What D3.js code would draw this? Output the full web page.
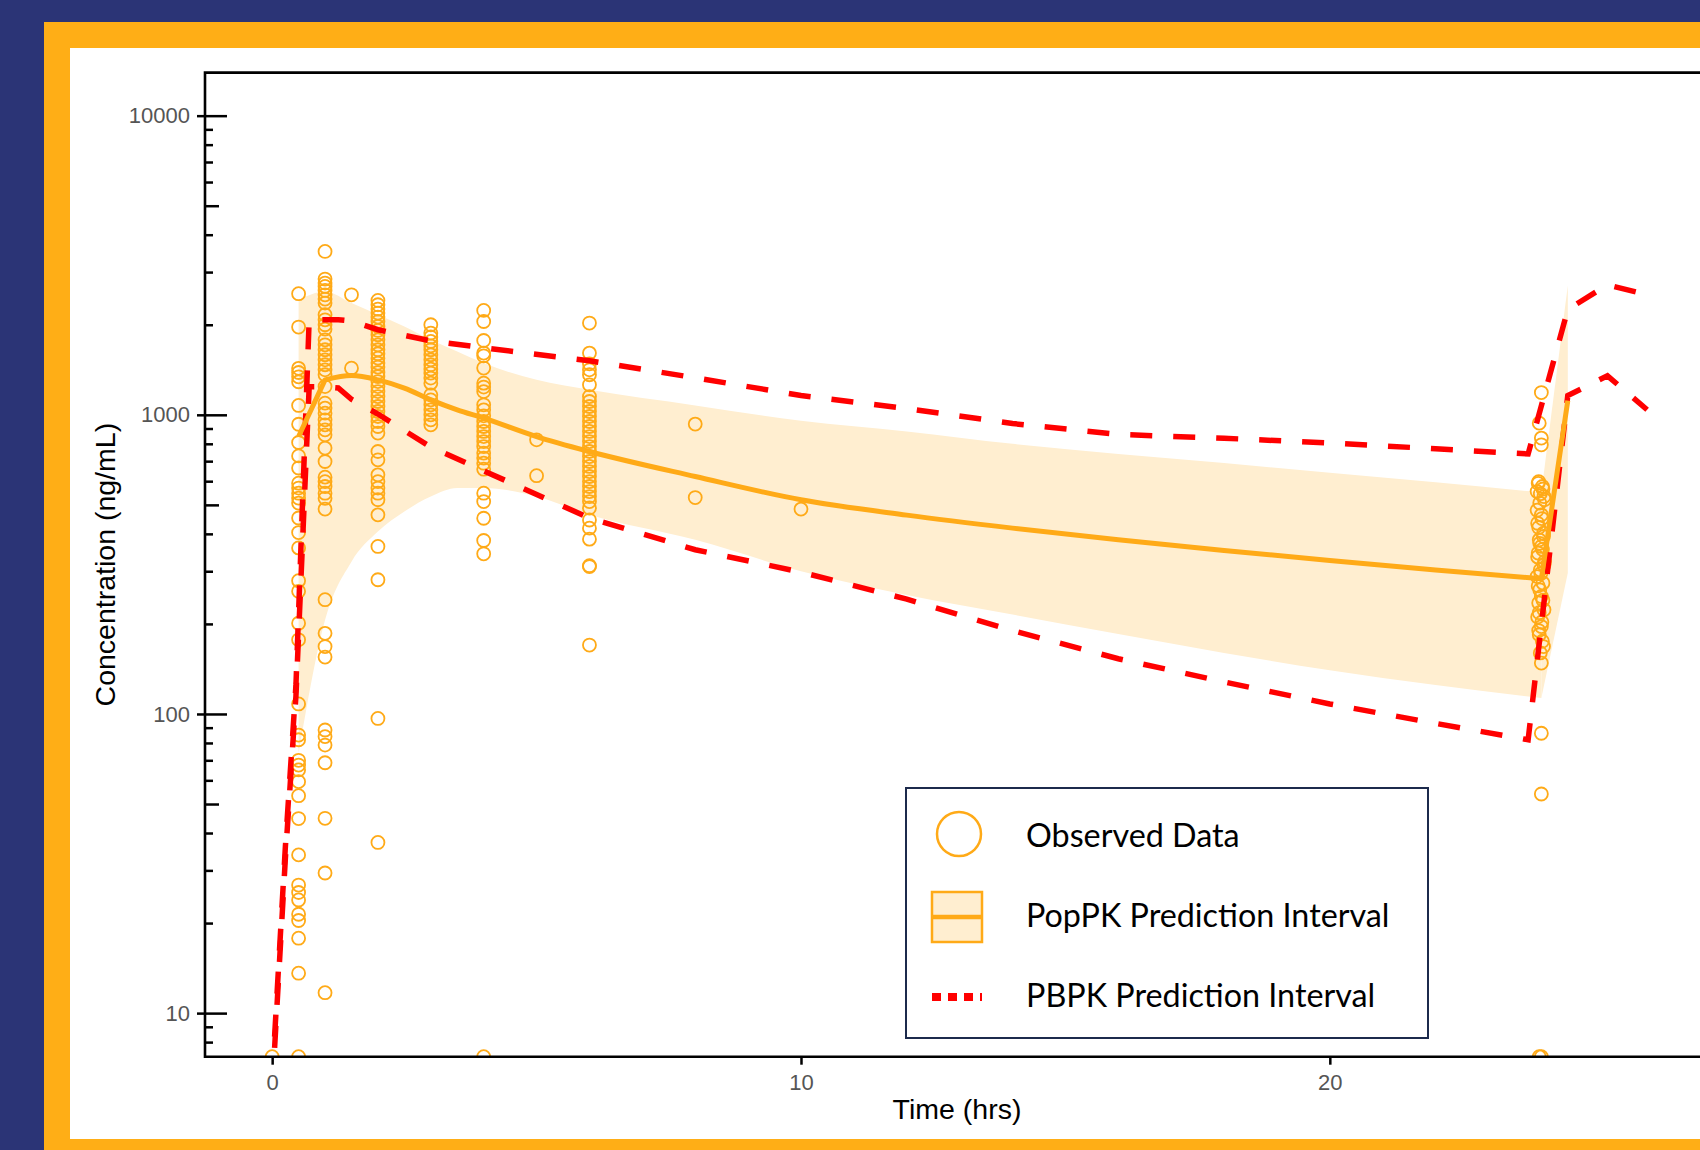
<!DOCTYPE html>
<html>
<head>
<meta charset="utf-8">
<script src="https://cdn.jsdelivr.net/npm/d3@7"></script>
<style>
  html, body { margin: 0; padding: 0; background: #2B3476; }
  svg { display: block; }
</style>
</head>
<body>
<svg id="chart" width="1700" height="1150"></svg>
<script>
// ---- Observed concentrations (ng/mL) ------------------------------------
// Samples below the limit of quantification sit on the axis floor.
const BLQ = 7.15;

const sampleTimes = [0, 0.5, 1, 1.5, 2, 3, 4, 5, 6, 8, 10];
const observedConc = [
  [BLQ],
  [2540, 1965, 1430, 1385, 1340, 1290, 1075, 930, 808, 729, 664, 591, 569, 547, 527, 507,
   452, 404, 359, 279, 257, 201, 177, 108, 85, 82, 70, 67.5, 65, 59.4, 53.3, 44.7, 33.8,
   26.8, 25.3, 23.9, 21.4, 20.4, 17.8, 13.6, BLQ],
  [3516, 2843, 2757, 2687, 2604, 2519, 2438, 2363, 2160, 2078, 2000, 1934, 1781, 1714, 1650,
   1588, 1527, 1470, 1414, 1361, 1243, 1094, 1053, 1013, 962, 926, 891, 857, 774, 698, 619,
   598, 576, 547, 526, 484, 241, 186, 168, 155, 88.4, 84, 78.7, 68.7, 44.8, 29.4, 11.7],
  [2519, 1432],
  [2412, 2333, 2257, 2189, 2122, 2051, 1974, 1914, 1852, 1781, 1714, 1650, 1600, 1547, 1489,
   1444, 1385, 1343, 1292, 1243, 1196, 1151, 1108, 1066, 1026, 987, 950, 914, 869, 754, 707,
   630, 598, 569, 547, 520, 463, 363, 281, 96.6, 37.2],
  [2000, 1876, 1820, 1759, 1701, 1650, 1588, 1527, 1470, 1422, 1379, 1327, 1276, 1166, 1122,
   1080, 1039, 1000, 962, 926],
  [2233, 2051, 1772, 1608, 1575, 1433, 1276, 1238, 1196, 1080, 1039, 992, 950, 914, 880, 846,
   814, 783, 745, 717, 689, 658, 547, 513, 451, 380, 343, BLQ],
  [825, 626],
  [2026, 1608, 1481, 1414, 1361, 1260, 1151, 1108, 1066, 1026, 987, 950, 914, 880, 846, 814,
   783, 754, 725, 698, 672, 646, 622, 598, 576, 554, 533, 513, 488, 445, 418, 384, 313, 311, 170],
  [931, 529],
  [484]
];

// Trough samples drawn just before the next dose (actual sampling times)
const troughTimes = [24.0, 23.96, 24.0, 24.0, 23.95, 24.02, 23.92, 24.05, 23.97, 24.0, 23.93,
                     24.04, 23.96, 24.0, 23.94, 24.06, 23.98, 23.92, 24.03, 23.97, 24.0, 23.95,
                     24.05, 23.93, 24.0, 23.96, 24.02, 23.98, 24.0, 24.0, 24.0, 23.96, 24.0,
                     23.94, 24.03, 23.98, 24.06, 23.92, 24.01, 23.95, 24.04, 23.97, 24.02,
                     23.93, 24.05, 23.99, 23.94, 24.03, 23.96, 24.01, 23.95, 24.04];
const troughConc  = [1187, 938, 836, 794, 598, 576, 554, 533, 507, 463, 434, 402, 382, 363,
                     345, 323, 303, 288, 274, 260, 247, 235, 223, 211, 196, 184, 175, 160, 148,
                     86.2, 54.0, BLQ, BLQ,
                     590, 565, 545, 520, 480, 450, 420, 392, 372, 355, 335, 315, 295, 268,
                     240, 218, 203, 190, 168, 155];

// ---- PopPK model: median and prediction interval ------------------------
const popTime   = [0.5, 1, 1.5, 2, 2.5, 3, 3.5, 4, 5, 6, 8, 10, 12, 14, 16, 18, 20, 22, 24, 24.5];
const popMedian = [846, 1309, 1353, 1309, 1228, 1122, 1039, 975, 846, 754, 622, 520, 462, 418,
                   382, 352, 326, 303, 283, 1115];
const popUpper  = [2422, 2585, 2363, 2160, 1974, 1781, 1628, 1489, 1309, 1212, 1075, 955, 880,
                   800, 740, 690, 640, 595, 550, 2700];
const popLower  = [74, 206, 323, 407, 475, 533, 569, 569, 533, 463, 382, 300, 250, 215, 185,
                   160, 140, 125, 113, 296];

// ---- PBPK model: prediction interval bounds -----------------------------
const pbpkTime  = [0, 0.25, 0.45, 0.7, 1.0, 1.25, 1.5, 2, 3, 4, 6, 8, 10, 12, 14, 16, 18, 20,
                   22, 23.75, 24.5, 25.25, 26];
const pbpkUpper = [6, 36, 125, 2080, 2080, 2080, 2060, 1925, 1767, 1675, 1515, 1330, 1160,
                   1050, 935, 860, 835, 805, 770, 740, 2250, 2720, 2520];
const pbpkLower = [5.5, 33, 115, 1240, 1240, 1230, 1127, 1006, 780, 650, 452, 354, 298, 242,
                   190, 153, 128, 108, 93, 82, 1160, 1350, 1040];

// ---- Axis ticks ----------------------------------------------------------
const xTickValues = [0, 10, 20];
const yTickValues = [10, 100, 1000, 10000];
const yTickLabels = ["10", "100", "1000", "10000"];

// ---- Legend --------------------------------------------------------------
const legendLabels = ["Observed Data", "PopPK Prediction Interval", "PBPK Prediction Interval"];

// ---- Styling -------------------------------------------------------------
const ORANGE = "#FFAA17";
const BAND = "#FFEED0";
const RED = "#FF0000";
const NAVY = "#2B3476";

const svg = d3.select("#chart");
const W = 1700, H = 1150;
const plot = { left: 205, right: 1700, top: 72.6, bottom: 1056.7 };

// page frame
svg.append("rect").attr("width", W).attr("height", H).attr("fill", NAVY);
svg.append("rect").attr("x", 44).attr("y", 22).attr("width", W - 44).attr("height", H - 22)
  .attr("fill", "#FFAE16");
svg.append("rect").attr("x", 70).attr("y", 48).attr("width", W - 70).attr("height", 1139 - 48)
  .attr("fill", "#FFFFFF");

const x = d3.scaleLinear().domain([-1.27, 27]).range([plot.left, plot.right]);
const y = d3.scaleLog().domain([BLQ, 13930]).range([plot.bottom, plot.top]);

svg.append("clipPath").attr("id", "plot-clip")
  .append("rect")
  .attr("x", plot.left).attr("y", plot.top)
  .attr("width", plot.right - plot.left).attr("height", plot.bottom - plot.top);

const g = svg.append("g").attr("clip-path", "url(#plot-clip)");

// PopPK prediction band: smooth over the dosing interval, straight across the redose step
const bandData = popTime.map((t, i) => ({ t, lo: popLower[i], hi: popUpper[i] }));
const nPop = popTime.length;
const bandSmooth = d3.area().curve(d3.curveMonotoneX)
  .x(d => x(d.t)).y0(d => y(d.lo)).y1(d => y(d.hi));
const bandStraight = d3.area()
  .x(d => x(d.t)).y0(d => y(d.lo)).y1(d => y(d.hi));
g.append("path").datum(bandData.slice(0, nPop - 1)).attr("fill", BAND).attr("d", bandSmooth);
g.append("path").datum(bandData.slice(nPop - 2)).attr("fill", BAND).attr("d", bandStraight);

// observed data
const obs = [];
sampleTimes.forEach((t, i) => observedConc[i].forEach(c => obs.push({ t, c })));
troughTimes.forEach((t, i) => obs.push({ t, c: troughConc[i] }));
g.selectAll("circle.obs")
  .data(obs)
  .join("circle")
  .attr("class", "obs")
  .attr("cx", d => x(d.t))
  .attr("cy", d => y(d.c))
  .attr("r", 6.5)
  .attr("fill", "none")
  .attr("stroke", ORANGE)
  .attr("stroke-width", 1.8);

// PBPK interval bounds
const pbpkLine = d3.line().x(d => x(d.t)).y(d => y(d.c));
[pbpkUpper, pbpkLower].forEach(vals => {
  g.append("path")
    .datum(pbpkTime.map((t, i) => ({ t, c: vals[i] })))
    .attr("fill", "none")
    .attr("stroke", RED)
    .attr("stroke-width", 5.5)
    .attr("stroke-dasharray", "22,21")
    .attr("d", pbpkLine);
});

// PopPK median: straight absorption rise, smooth decline, straight redose rise
const med = popTime.map((t, i) => ({ t, c: popMedian[i] }));
const smoothPart = d3.line().curve(d3.curveMonotoneX).x(d => x(d.t)).y(d => y(d.c))(med.slice(1, nPop - 1));
const first = med[0], last = med[nPop - 1];
const medPath = `M${x(first.t)},${y(first.c)}` + smoothPart.replace(/^M/, "L") +
  `L${x(last.t)},${y(last.c)}`;
g.append("path")
  .attr("fill", "none")
  .attr("stroke", ORANGE)
  .attr("stroke-width", 5)
  .attr("stroke-linejoin", "round")
  .attr("d", medPath);

// ---- axes -----------------------------------------------------------------
const axisColor = "#000";
const tickFont = "'Liberation Sans', Arial, sans-serif";

// y axis: outer part with labels
const yOuter = svg.append("g").attr("transform", `translate(${plot.left},0)`)
  .call(d3.axisLeft(y).tickValues(yTickValues)
    .tickFormat((d, i) => yTickLabels[i]).tickSize(8).tickSizeOuter(0).tickPadding(7));
yOuter.select(".domain").remove();
yOuter.selectAll("line").attr("stroke", axisColor).attr("stroke-width", 2.5);
yOuter.selectAll("text").attr("font-family", tickFont).attr("font-size", 22).attr("fill", "#555");

// y axis: inner ticks (major / half-decade / minor)
const allLogTicks = y.ticks(40).filter(v => v >= y.domain()[0] && v <= y.domain()[1]);
const lead = v => Math.round(v / Math.pow(10, Math.floor(Math.log10(v) + 1e-9)));
const yMajorInner = allLogTicks.filter(v => lead(v) === 1);
const yMidInner = allLogTicks.filter(v => lead(v) === 5);
const yMinorInner = allLogTicks.filter(v => lead(v) !== 1 && lead(v) !== 5);
[[yMajorInner, 22], [yMidInner, 14], [yMinorInner, 8]].forEach(([vals, len]) => {
  const a = svg.append("g").attr("transform", `translate(${plot.left},0)`)
    .call(d3.axisRight(y).tickValues(vals).tickSize(len).tickSizeOuter(0).tickFormat(""));
  a.select(".domain").remove();
  a.selectAll("line").attr("stroke", axisColor).attr("stroke-width", 2.5);
});

// x axis
const xAxis = svg.append("g").attr("transform", `translate(0,${plot.bottom})`)
  .call(d3.axisBottom(x).tickValues(xTickValues).tickSize(8).tickSizeOuter(0).tickPadding(10)
    .tickFormat(d3.format("d")));
xAxis.select(".domain").remove();
xAxis.selectAll("line").attr("stroke", axisColor).attr("stroke-width", 2.5);
xAxis.selectAll("text").attr("font-family", tickFont).attr("font-size", 22).attr("fill", "#555");

// frame lines: left axis, bottom axis, top border
svg.append("path")
  .attr("d", `M${plot.right},${plot.top}H${plot.left}V${plot.bottom}H${plot.right}`)
  .attr("fill", "none").attr("stroke", axisColor).attr("stroke-width", 2.6);

// axis titles
svg.append("text")
  .attr("transform", `translate(115,${(plot.top + plot.bottom) / 2}) rotate(-90)`)
  .attr("text-anchor", "middle")
  .attr("font-family", tickFont).attr("font-size", 28.5).attr("fill", "#000")
  .text("Concentration (ng/mL)");
svg.append("text")
  .attr("x", 957).attr("y", 1119)
  .attr("text-anchor", "middle")
  .attr("font-family", tickFont).attr("font-size", 28.5).attr("fill", "#000")
  .text("Time (hrs)");

// ---- legend ---------------------------------------------------------------
const lg = svg.append("g");
lg.append("rect")
  .attr("x", 906).attr("y", 788).attr("width", 522).attr("height", 250)
  .attr("fill", "#fff").attr("stroke", "#1C2A4C").attr("stroke-width", 2);

lg.append("circle").attr("cx", 959).attr("cy", 834).attr("r", 22)
  .attr("fill", "none").attr("stroke", ORANGE).attr("stroke-width", 2.5);

lg.append("rect").attr("x", 932).attr("y", 892).attr("width", 50).attr("height", 50)
  .attr("fill", BAND).attr("stroke", ORANGE).attr("stroke-width", 2.5);
lg.append("line").attr("x1", 932).attr("x2", 982).attr("y1", 917).attr("y2", 917)
  .attr("stroke", ORANGE).attr("stroke-width", 4.5);

lg.append("line").attr("x1", 932).attr("x2", 982).attr("y1", 997).attr("y2", 997)
  .attr("stroke", RED).attr("stroke-width", 8).attr("stroke-dasharray", "9,7");

lg.selectAll("text.leg")
  .data(legendLabels)
  .join("text")
  .attr("class", "leg")
  .attr("x", 1026)
  .attr("y", (d, i) => [847, 927, 1007][i])
  .attr("font-family", "Lato, 'Open Sans', sans-serif")
  .attr("font-size", 32.3)
  .attr("fill", "#000")
  .text(d => d);
</script>
</body>
</html>
